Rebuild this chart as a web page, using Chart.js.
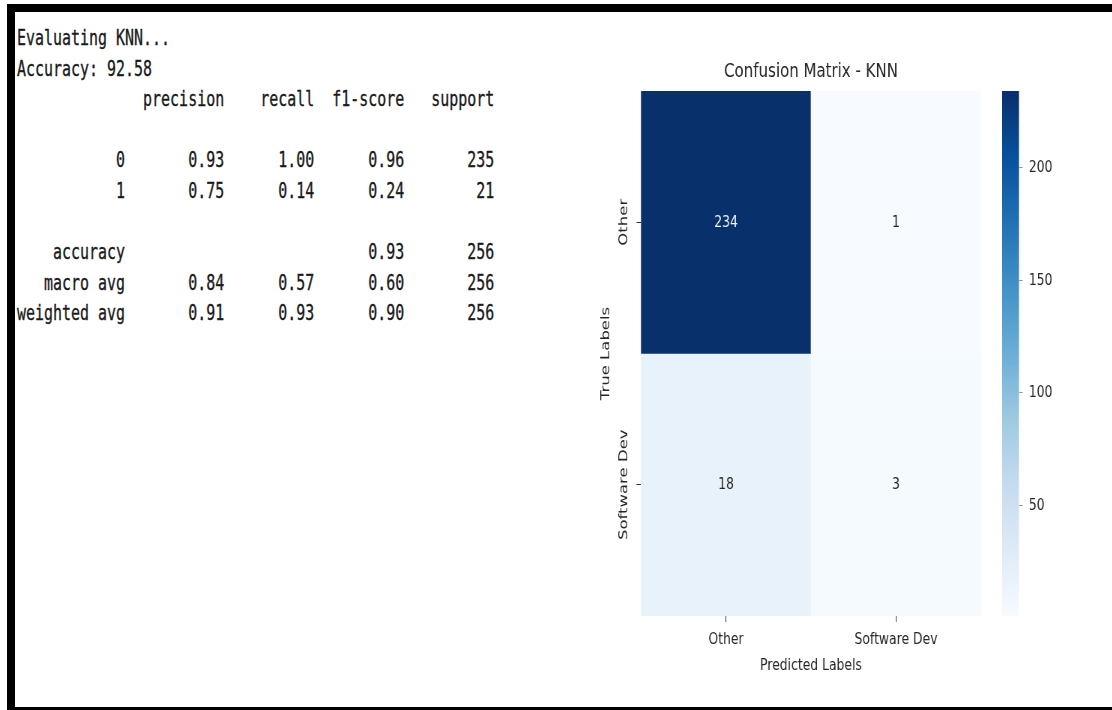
<!DOCTYPE html>
<html>
<head>
<meta charset="utf-8">
<title>Confusion Matrix - KNN</title>
<script src="https://cdn.jsdelivr.net/npm/chart.js@4.4.1/dist/chart.umd.min.js"></script>
<style>
  html, body { margin: 0; padding: 0; background: #ffffff; width: 1112px; height: 710px; overflow: hidden; }
  #frame {
    position: absolute; left: 7px; top: 4px; width: 1105px; height: 706px;
    box-sizing: border-box; border-top: 8px solid #000; border-left: 8px solid #000; border-bottom: 3px solid #000;
  }
  #report {
    position: absolute; left: 17px; top: 23px; margin: 0;
    font-family: 'DejaVu Sans Mono', monospace; font-size: 22px; line-height: 30.6px;
    color: #1a1a1a; white-space: pre; -webkit-text-stroke: 0.35px #1a1a1a;
    transform: scaleX(0.68); transform-origin: 0 0;
  }
  #heatmap { position: absolute; left: 580px; top: 12px; transform: scaleX(0.75); transform-origin: 0 0; }
  #colorbar { position: absolute; left: 990px; top: 12px; transform: scaleX(0.75); transform-origin: 0 0; }
</style>
</head>
<body>
<div id="frame"></div>
<pre id="report"></pre>
<canvas id="heatmap" width="560" height="695"></canvas>
<canvas id="colorbar" width="163" height="695"></canvas>
<script>
// ---- classification report values ----
const modelName = 'KNN';
const accuracyPct = 92.58;
const reportClasses = ['0', '1'];
const precision = [0.93, 0.75];
const recall = [1.00, 0.14];
const f1Score = [0.96, 0.24];
const support = [235, 21];
const accuracyF1 = 0.93;
const totalSupport = 256;
const macroAvg = [0.84, 0.57, 0.60];
const weightedAvg = [0.91, 0.93, 0.90];

// ---- confusion matrix ----
const trueLabels = ['Other', 'Software Dev'];
const predictedLabels = ['Other', 'Software Dev'];
const confusion = [
  [234, 1],
  [18, 3]
];
const colorbarTicks = [50, 100, 150, 200];

// ---- text report in sklearn layout ----
const pad = (s, n) => String(s).padStart(n);
const nameW = 12;
const headerLine = ' '.repeat(nameW) + ' ' + ['precision', 'recall', 'f1-score', 'support'].map(h => ' ' + pad(h, 9)).join('');
const rowLine = (name, vals, sup) =>
  pad(name, nameW) + ' ' + vals.map(v => ' ' + pad(v.toFixed(2), 9)).join('') + ' ' + pad(sup, 9);
const reportLines = [
  'Evaluating ' + modelName + '...',
  'Accuracy: ' + accuracyPct.toFixed(2),
  headerLine,
  '',
  ...reportClasses.map((c, i) => rowLine(c, [precision[i], recall[i], f1Score[i]], support[i])),
  '',
  pad('accuracy', nameW) + ' ' + ' ' + pad('', 9) + ' ' + pad('', 9) + ' ' + pad(accuracyF1.toFixed(2), 9) + ' ' + pad(totalSupport, 9),
  rowLine('macro avg', macroAvg, totalSupport),
  rowLine('weighted avg', weightedAvg, totalSupport)
];
document.getElementById('report').textContent = reportLines.join('\n');

// ---- Blues colormap ----
const bluesStops = [
  [247, 251, 255], [222, 235, 247], [198, 219, 239], [158, 202, 225], [107, 174, 214],
  [66, 146, 198], [33, 113, 181], [8, 81, 156], [8, 48, 107]
];
function blues(t) {
  t = Math.max(0, Math.min(1, t));
  const p = t * (bluesStops.length - 1);
  const i = Math.min(Math.floor(p), bluesStops.length - 2);
  const f = p - i;
  const a = bluesStops[i], b = bluesStops[i + 1];
  const c = a.map((v, k) => Math.round(v + (b[k] - v) * f));
  return `rgb(${c[0]},${c[1]},${c[2]})`;
}
const flat = confusion.flat();
const vmin = Math.min(...flat);
const vmax = Math.max(...flat);
const norm = v => (v - vmin) / (vmax - vmin);

const FONT = "'DejaVu Sans', 'Liberation Sans', sans-serif";
const TEXT = '#262626';
const FS = 16.5;

// annotation of each cell with its count
const cellLabels = {
  id: 'cellLabels',
  afterDatasetsDraw(chart) {
    const ctx = chart.ctx;
    ctx.save();
    ctx.font = `${FS}px ${FONT}`;
    ctx.textAlign = 'center';
    ctx.textBaseline = 'middle';
    confusion.forEach((row, i) => {
      const meta = chart.getDatasetMeta(i);
      row.forEach((v, j) => {
        const bar = meta.data[j];
        ctx.fillStyle = norm(v) > 0.5 ? '#f2f5fa' : TEXT;
        ctx.fillText(String(v), bar.x, (bar.y + bar.base) / 2);
      });
    });
    ctx.restore();
  }
};

// rotated row labels along the left axis
const rowLabels = {
  id: 'rowLabels',
  afterDraw(chart) {
    const ctx = chart.ctx;
    const ys = chart.scales.y;
    ctx.save();
    ctx.font = `${FS}px ${FONT}`;
    ctx.fillStyle = TEXT;
    ctx.textAlign = 'center';
    ctx.textBaseline = 'middle';
    trueLabels.forEach((lab, i) => {
      ctx.save();
      ctx.translate(ys.right - 22.6, ys.getPixelForValue(i + 0.5));
      ctx.rotate(-Math.PI / 2);
      ctx.fillText(lab, 0, 0);
      ctx.restore();
    });
    ctx.restore();
  }
};

new Chart(document.getElementById('heatmap'), {
  type: 'bar',
  data: {
    labels: predictedLabels,
    datasets: trueLabels.map((lab, i) => ({
      label: lab,
      data: predictedLabels.map(() => [i, i + 1]),
      backgroundColor: confusion[i].map(v => blues(norm(v))),
      borderWidth: 0,
      barPercentage: 1,
      categoryPercentage: 1,
      grouped: false
    }))
  },
  options: {
    responsive: false,
    maintainAspectRatio: false,
    devicePixelRatio: 1,
    animation: false,
    layout: { padding: { left: 0, right: 25.3, top: 0, bottom: 19 } },
    plugins: {
      legend: { display: false },
      tooltip: { enabled: false },
      title: {
        display: true,
        fullSize: false,
        text: 'Confusion Matrix - ' + modelName,
        color: TEXT,
        font: { family: FONT, size: 20, weight: 'normal' },
        padding: { top: 48, bottom: 7 }
      }
    },
    scales: {
      x: {
        type: 'category',
        offset: true,
        afterFit: s => { s.height = 72; },
        grid: { offset: false, drawOnChartArea: false, drawTicks: true, tickLength: 6, color: '#333333' },
        border: { display: false },
        ticks: { color: TEXT, font: { family: FONT, size: FS }, padding: 8, maxRotation: 0, minRotation: 0 },
        title: { display: true, text: 'Predicted Labels', color: TEXT, font: { family: FONT, size: FS }, padding: { top: 0, bottom: 12 } }
      },
      y: {
        type: 'linear',
        min: 0,
        max: trueLabels.length,
        reverse: true,
        afterBuildTicks: s => { s.ticks = trueLabels.map((_, i) => ({ value: i + 0.5 })); },
        afterFit: s => { s.width = 81.3; },
        grid: { drawOnChartArea: false, drawTicks: true, tickLength: 6, color: '#333333' },
        border: { display: false },
        ticks: { display: false },
        title: { display: true, text: 'True Labels', color: TEXT, font: { family: FONT, size: FS }, padding: { top: 25.3, bottom: 0 } }
      }
    }
  },
  plugins: [cellLabels, rowLabels]
});

// ---- colour bar ----
new Chart(document.getElementById('colorbar'), {
  type: 'bar',
  data: {
    labels: [''],
    datasets: [{
      data: [[vmin, vmax]],
      borderWidth: 0,
      barPercentage: 1,
      categoryPercentage: 1,
      backgroundColor: (c) => {
        const area = c.chart.chartArea;
        if (!area) return blues(1);
        const g = c.chart.ctx.createLinearGradient(0, area.bottom, 0, area.top);
        bluesStops.forEach((_, k) => {
          const t = k / (bluesStops.length - 1);
          g.addColorStop(t, blues(t));
        });
        return g;
      }
    }]
  },
  options: {
    responsive: false,
    maintainAspectRatio: false,
    devicePixelRatio: 1,
    animation: false,
    layout: { padding: { left: 16, right: 0, top: 79, bottom: 91 } },
    plugins: { legend: { display: false }, tooltip: { enabled: false } },
    scales: {
      x: { display: false, offset: true },
      y: {
        type: 'linear',
        position: 'right',
        min: vmin,
        max: vmax,
        afterBuildTicks: s => { s.ticks = colorbarTicks.map(v => ({ value: v })); },
        afterFit: s => { s.width = 124.3; },
        grid: { drawOnChartArea: false, drawTicks: true, tickLength: 5, color: '#9a9a9a' },
        border: { display: false },
        ticks: { color: TEXT, font: { family: FONT, size: FS }, padding: 8 }
      }
    }
  }
});
</script>
</body>
</html>
